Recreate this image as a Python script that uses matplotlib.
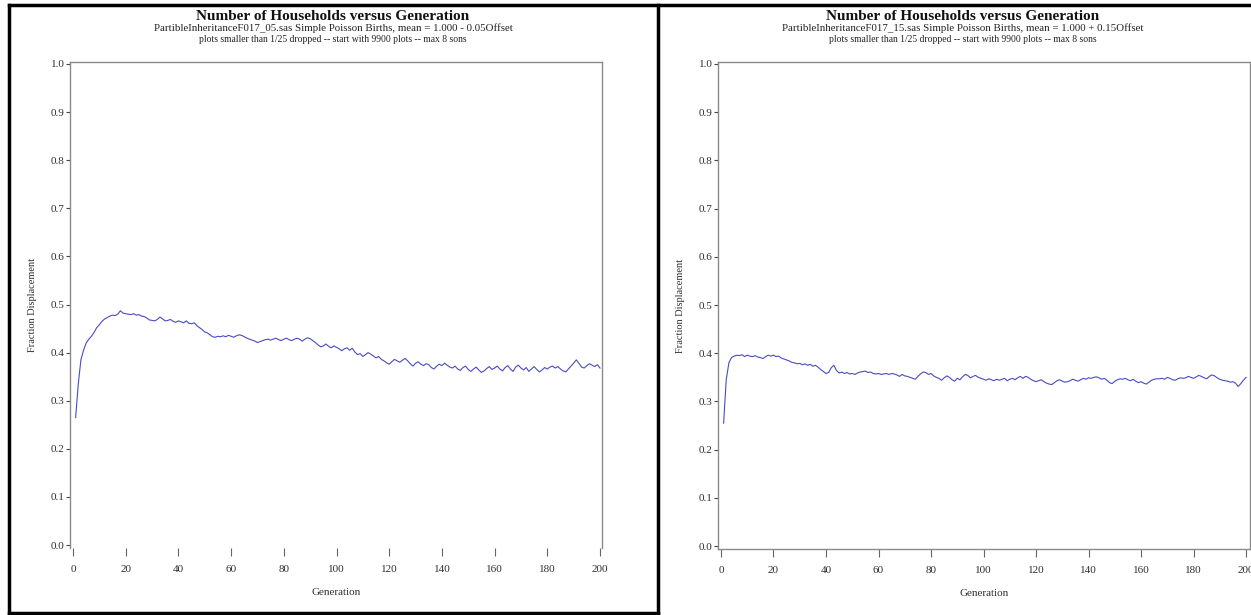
import matplotlib
matplotlib.use("Agg")
import matplotlib.pyplot as plt
from matplotlib.lines import Line2D

plt.rcParams['font.family'] = ['Liberation Serif', 'DejaVu Serif']

# ---- data ----
generations = list(range(1, 201))

frac_left = [
    0.265, 0.335, 0.385, 0.405, 0.420, 0.428, 0.434, 0.442, 0.452, 0.458,
    0.465, 0.470, 0.473, 0.476, 0.478, 0.477, 0.480, 0.487, 0.482, 0.481,
    0.480, 0.479, 0.481, 0.478, 0.479, 0.476, 0.475, 0.472, 0.468, 0.467,
    0.466, 0.469, 0.474, 0.470, 0.466, 0.467, 0.469, 0.465, 0.463, 0.466,
    0.464, 0.462, 0.466, 0.461, 0.460, 0.462, 0.456, 0.452, 0.448, 0.443,
    0.441, 0.437, 0.433, 0.432, 0.434, 0.433, 0.435, 0.433, 0.436, 0.434,
    0.432, 0.435, 0.437, 0.436, 0.433, 0.430, 0.428, 0.426, 0.424, 0.421,
    0.423, 0.425, 0.427, 0.428, 0.426, 0.428, 0.430, 0.427, 0.425, 0.428,
    0.430, 0.427, 0.425, 0.428, 0.430, 0.428, 0.424, 0.428, 0.431, 0.429,
    0.425, 0.421, 0.416, 0.412, 0.414, 0.418, 0.413, 0.410, 0.414, 0.411,
    0.408, 0.404, 0.408, 0.410, 0.405, 0.409, 0.401, 0.396, 0.398, 0.392,
    0.396, 0.400, 0.397, 0.393, 0.389, 0.392, 0.386, 0.383, 0.379, 0.376,
    0.381, 0.386, 0.383, 0.380, 0.384, 0.388, 0.383, 0.377, 0.372, 0.378,
    0.381, 0.376, 0.373, 0.377, 0.375, 0.369, 0.366, 0.372, 0.376, 0.373,
    0.378, 0.374, 0.370, 0.368, 0.372, 0.366, 0.363, 0.369, 0.372, 0.365,
    0.361, 0.366, 0.370, 0.364, 0.359, 0.362, 0.367, 0.371, 0.365, 0.368,
    0.372, 0.366, 0.362, 0.369, 0.373, 0.366, 0.361, 0.370, 0.374, 0.368,
    0.364, 0.369, 0.361, 0.366, 0.371, 0.365, 0.360, 0.364, 0.369, 0.366,
    0.370, 0.372, 0.368, 0.371, 0.366, 0.362, 0.360, 0.366, 0.372, 0.378,
    0.385, 0.378, 0.370, 0.368, 0.373, 0.377, 0.374, 0.371, 0.375, 0.368,
]

frac_right = [
    0.255, 0.345, 0.380, 0.391, 0.394, 0.396, 0.395, 0.397, 0.393, 0.396,
    0.394, 0.393, 0.395, 0.392, 0.391, 0.389, 0.393, 0.396, 0.394, 0.396,
    0.393, 0.394, 0.390, 0.388, 0.386, 0.384, 0.381, 0.380, 0.378, 0.379,
    0.376, 0.378, 0.375, 0.377, 0.373, 0.375, 0.371, 0.366, 0.362, 0.358,
    0.360, 0.370, 0.375, 0.364, 0.359, 0.361, 0.358, 0.360, 0.357, 0.358,
    0.356, 0.359, 0.361, 0.362, 0.363, 0.360, 0.361, 0.358, 0.357, 0.358,
    0.356, 0.357, 0.358, 0.356, 0.358, 0.357, 0.355, 0.352, 0.356, 0.353,
    0.352, 0.350, 0.348, 0.346, 0.352, 0.357, 0.361, 0.360, 0.356, 0.358,
    0.353, 0.350, 0.348, 0.344, 0.349, 0.353, 0.350, 0.345, 0.342, 0.348,
    0.345, 0.351, 0.356, 0.354, 0.349, 0.352, 0.354, 0.350, 0.348, 0.346,
    0.344, 0.347, 0.345, 0.343, 0.346, 0.344, 0.346, 0.348, 0.343, 0.346,
    0.348, 0.345, 0.349, 0.352, 0.348, 0.352, 0.350, 0.346, 0.343, 0.341,
    0.343, 0.345, 0.341, 0.338, 0.336, 0.335, 0.339, 0.343, 0.345, 0.342,
    0.340, 0.341, 0.343, 0.346, 0.344, 0.342, 0.345, 0.348, 0.346, 0.349,
    0.348, 0.350, 0.351, 0.349, 0.346, 0.348, 0.344, 0.339, 0.337, 0.342,
    0.345, 0.347, 0.346, 0.348, 0.345, 0.343, 0.346, 0.342, 0.339, 0.341,
    0.338, 0.336, 0.340, 0.344, 0.346, 0.347, 0.347, 0.348, 0.346, 0.350,
    0.348, 0.345, 0.344, 0.347, 0.349, 0.348, 0.349, 0.352, 0.350, 0.348,
    0.351, 0.354, 0.352, 0.349, 0.347, 0.352, 0.355, 0.353, 0.349, 0.346,
    0.344, 0.343, 0.342, 0.340, 0.341, 0.338, 0.331, 0.337, 0.344, 0.350,
]

x_ticks = [0, 20, 40, 60, 80, 100, 120, 140, 160, 180, 200]
y_ticks = [0.0, 0.1, 0.2, 0.3, 0.4, 0.5, 0.6, 0.7, 0.8, 0.9, 1.0]

title = "Number of Households versus Generation"
sub_left = "PartibleInheritanceF017_05.sas Simple Poisson Births, mean = 1.000 - 0.05Offset"
sub_right = "PartibleInheritanceF017_15.sas Simple Poisson Births, mean = 1.000 + 0.15Offset"
sub2 = "plots smaller than 1/25 dropped -- start with 9900 plots -- max 8 sons"

W, H = 1251, 615
fig = plt.figure(figsize=(W / 100, H / 100), dpi=100)

line_color = "#4b4bc4"
spine_color = "#8a8a8a"
text_color = "#303030"


def px(x0, y0, x1, y1):
    # pixel box -> figure rect
    return [x0 / W, 1 - y1 / H, (x1 - x0) / W, (y1 - y0) / H]


def style_axes(ax, xmax, bottom_spine):
    ax.set_xlim(-1.14, xmax)
    ax.set_ylim(-0.006, 1.004)
    ax.set_xticks(x_ticks)
    ax.set_yticks(y_ticks)
    ax.set_yticklabels([f"{v:.1f}" for v in y_ticks])
    for s in ax.spines.values():
        s.set_color(spine_color)
        s.set_linewidth(1.0)
    ax.spines['bottom'].set_visible(bottom_spine)
    ax.tick_params(axis='y', length=3, width=0.8, color='#444444', pad=1,
                   labelsize=8, labelcolor=text_color)
    ax.tick_params(axis='x', length=6, width=0.8, color='#666666', pad=6,
                   labelsize=8, labelcolor=text_color)
    ax.set_xlabel("Generation", fontsize=8, color=text_color, labelpad=10)
    ax.set_ylabel("Fraction Displacement", fontsize=7.5, color=text_color, labelpad=10)


ax1 = fig.add_axes(px(70, 62, 602, 548))
ax1.plot(generations, frac_left, color=line_color, lw=0.8)
style_axes(ax1, 200.76, False)

ax2 = fig.add_axes(px(718, 62, 1250, 549))
ax2.plot(generations, frac_right, color=line_color, lw=0.8)
style_axes(ax2, 201.5, True)

# titles
for cx, sub in [(333, sub_left), (963, sub_right)]:
    fig.text(cx / W, 1 - 16 / H, title, ha='center', va='center',
             fontsize=11, fontweight='bold', color='#111111')
    fig.text(cx / W, 1 - 28.5 / H, sub, ha='center', va='center',
             fontsize=7.8, color='#222222')
    fig.text(cx / W, 1 - 40 / H, sub2, ha='center', va='center',
             fontsize=6.9, color='#222222')

# black frame around the panels
frame = dict(color='black', lw=2.5, transform=fig.transFigure)
fig.add_artist(Line2D([9 / W, 1], [1 - 5 / H, 1 - 5 / H], **frame))
fig.add_artist(Line2D([9 / W, 9 / W], [1 - 5 / H, 1 - 613 / H], **frame))
fig.add_artist(Line2D([9 / W, 658 / W], [1 - 613 / H, 1 - 613 / H], **frame))
fig.add_artist(Line2D([658 / W, 658 / W], [1 - 5 / H, 0], **frame))

fig.savefig("out.png", dpi=100)
